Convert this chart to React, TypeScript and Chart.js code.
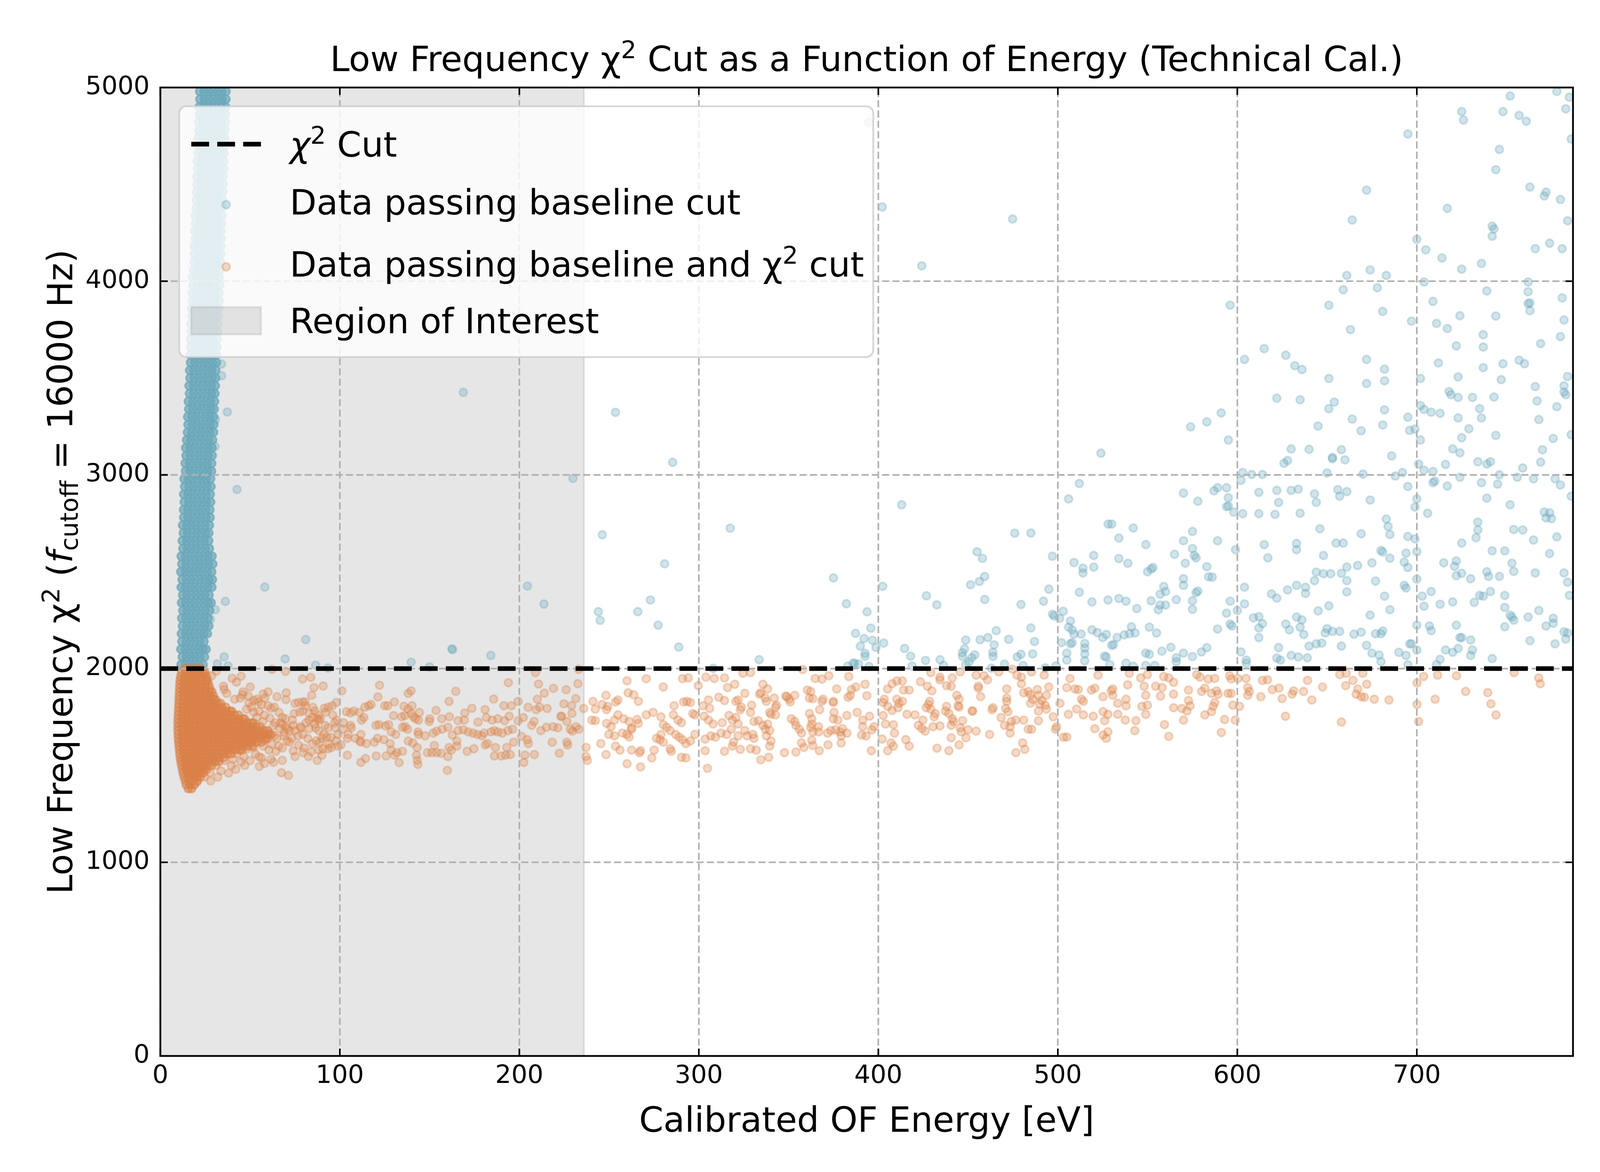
import { useEffect, useRef } from "react"
import { Chart, registerables } from "chart.js"

Chart.register(...registerables)

const FONT = '"DejaVu Sans", "Liberation Sans", sans-serif'

// Axis ranges, cut value and region of interest
const X_MIN = 0
const X_MAX = 787
const Y_MIN = 0
const Y_MAX = 5000
const CHI2_CUT = 2000
const ROI_MAX = 236
const xTicks = [0, 100, 200, 300, 400, 500, 600, 700]
const yTicks = [0, 1000, 2000, 3000, 4000, 5000]

// Dense column of events that pass the baseline cut only (low energy), [y, x, x, ...]
const blueColumnRows: number[][] = [
  [2020, 11.5, 14, 16.4, 18.9, 21.3, 23.8],
  [2060, 12.2, 14.6, 17.1, 19.5, 22, 24.6],
  [2100, 11.4, 13.9, 16.3, 18.8, 21.2, 23.7, 25.5],
  [2140, 12, 14.5, 16.9, 19.4, 21.9, 24.3],
  [2180, 11.7, 14.2, 16.6, 19.1, 21.6, 24.1, 26.2],
  [2220, 12.3, 14.8, 17.2, 19.7, 22.2, 24.7, 27],
  [2260, 11.9, 14.3, 16.8, 19.2, 21.7, 24.2, 26.6],
  [2300, 12.5, 14.9, 17.4, 19.9, 22.4, 24.9, 27.4],
  [2340, 11.8, 14.2, 16.7, 19.1, 21.6, 24.1, 26.5, 28.3],
  [2380, 12.4, 14.8, 17.3, 19.8, 22.3, 24.7, 27.1],
  [2420, 11.6, 14, 16.5, 18.9, 21.4, 23.9, 26.4, 28.7],
  [2460, 12.1, 14.6, 17, 19.5, 22, 24.5, 27, 29],
  [2500, 11.4, 13.9, 16.3, 18.8, 21.2, 23.7, 26.2, 28.6],
  [2540, 12, 14.4, 16.9, 19.4, 21.9, 24.3, 26.8, 29.2],
  [2580, 11.6, 14.1, 16.5, 19, 21.5, 24, 26.5, 28.8],
  [2620, 12.6, 15, 17.5, 19.9, 22.4, 24.9, 27.3],
  [2660, 12.2, 14.7, 17.1, 19.6, 22.1, 24.5, 26.9],
  [2700, 12.8, 15.2, 17.7, 20.2, 22.6, 25.1, 27],
  [2740, 12.4, 14.9, 17.3, 19.8, 22.3, 24.8, 27.3],
  [2780, 13, 15.4, 17.9, 20.4, 22.8, 25.3, 27.7],
  [2820, 12.9, 15.3, 17.8, 20.3, 22.7, 25.2, 27.6],
  [2860, 13.3, 15.8, 18.2, 20.7, 23.2, 25.6, 28],
  [2900, 13, 15.5, 17.9, 20.4, 22.9, 25.4, 27.8],
  [2940, 13.5, 16, 18.4, 20.9, 23.4, 25.8, 28.2],
  [2980, 13.2, 15.7, 18.1, 20.6, 23.1, 25.5, 28],
  [3020, 14, 16.4, 18.9, 21.4, 23.8, 26.3, 28.5],
  [3060, 13.8, 16.3, 18.7, 21.2, 23.7, 26.1, 28.6],
  [3100, 14.3, 16.7, 19.2, 21.7, 24.1, 26.6, 28.9],
  [3140, 14.1, 16.6, 19, 21.5, 24, 26.4, 28.8],
  [3180, 14.6, 17, 19.5, 22, 24.4, 26.9, 29.1],
  [3220, 15.1, 17.5, 20, 22.5, 24.9, 27.4, 29.6],
  [3260, 15.4, 17.8, 20.3, 22.8, 25.2, 27.7, 29.8],
  [3300, 15.2, 17.7, 20.1, 22.6, 25.1, 27.5, 29.7],
  [3340, 15.8, 18.2, 20.7, 23.2, 25.6, 28.1, 30],
  [3380, 15.6, 18.1, 20.5, 23, 25.5, 27.9, 30.2],
  [3420, 16.2, 18.6, 21.1, 23.6, 26, 28.5, 30.4],
  [3460, 16, 18.5, 20.9, 23.4, 25.9, 28.3, 30.6],
  [3500, 16.5, 18.9, 21.4, 23.9, 26.3, 28.8, 30.8],
  [3540, 16.3, 18.8, 21.2, 23.7, 26.2, 28.6, 30.9],
  [3580, 16.8, 19.2, 21.7, 24.2, 26.6, 29.1, 31.2],
  [3620, 16.6, 19.1, 21.5, 24, 26.5, 28.9, 31.3],
  [3660, 17, 19.5, 22, 24.4, 26.9, 29.4, 31.5],
  [3700, 16.9, 19.3, 21.8, 24.3, 26.7, 29.2, 31.6],
  [3740, 17.3, 19.8, 22.2, 24.7, 27.2, 29.6, 31.9],
  [3780, 17.1, 19.6, 22, 24.5, 27, 29.5, 32],
  [3820, 17.6, 20.1, 22.5, 25, 27.5, 29.9, 32.3],
  [3860, 17.4, 19.9, 22.4, 24.8, 27.3, 29.8, 32.4],
  [3900, 17.9, 20.4, 22.8, 25.3, 27.8, 30.2, 32.7],
  [3940, 17.7, 20.2, 22.7, 25.1, 27.6, 30.1, 32.6],
  [3980, 18.2, 20.7, 23.1, 25.6, 28.1, 30.5, 33],
  [4020, 18, 20.5, 23, 25.4, 27.9, 30.4, 32.8],
  [4060, 18.5, 21, 23.4, 25.9, 28.4, 30.8, 33.2],
  [4100, 18.8, 21.3, 23.7, 26.2, 28.7, 31.1, 33.5],
  [4140, 19.1, 21.5, 24, 26.5, 28.9, 31.4, 33.6],
  [4180, 18.9, 21.4, 23.9, 26.3, 28.8, 31.3, 33.7],
  [4220, 19.4, 21.8, 24.3, 26.8, 29.2, 31.7, 33.9],
  [4260, 19.2, 21.7, 24.2, 26.6, 29.1, 31.6, 33.8],
  [4300, 19.6, 22.1, 24.5, 27, 29.5, 31.9, 34.1],
  [4340, 19.5, 22, 24.4, 26.9, 29.4, 31.8, 34.2],
  [4380, 19.9, 22.4, 24.8, 27.3, 29.8, 32.2, 34.3],
  [4420, 20.2, 22.6, 25.1, 27.6, 30, 32.5, 34.6],
  [4460, 20, 22.5, 25, 27.4, 29.9, 32.4, 34.7],
  [4500, 20.5, 22.9, 25.4, 27.9, 30.3, 32.8, 34.9],
  [4540, 20.3, 22.8, 25.3, 27.7, 30.2, 32.7, 35],
  [4580, 20.8, 23.2, 25.7, 28.2, 30.6, 33.1, 35.2],
  [4620, 20.6, 23.1, 25.6, 28, 30.5, 33, 35.3],
  [4660, 21, 23.5, 26, 28.4, 30.9, 33.4, 35.5],
  [4700, 21.3, 23.8, 26.2, 28.7, 31.2, 33.6, 35.7],
  [4740, 21.1, 23.6, 26.1, 28.5, 31, 33.5, 35.9],
  [4780, 21.5, 24, 26.4, 28.9, 31.4, 33.8, 36],
  [4820, 21.4, 23.9, 26.3, 28.8, 31.3, 33.7, 36.2],
  [4860, 21.8, 24.2, 26.7, 29.2, 31.6, 34.1, 36.3],
  [4900, 21.6, 24.1, 26.6, 29, 31.5, 34, 36.4],
  [4940, 22, 24.5, 26.9, 29.4, 31.9, 34.3, 36.5],
  [4980, 21.9, 24.4, 26.8, 29.3, 31.8, 34.2, 36.6],
]

// Scattered baseline-only events, flat [x, y, x, y, ...]
const blueLow: number[] = [
  58.2, 2421, 36.2, 2347, 30.6, 2304, 27.9, 2255, 81, 2150, 35.5, 2061, 69.5, 2050, 31.8, 2025, 37.7, 2014,
  86.5, 2018, 93.4, 2003, 139.7, 2033, 150, 2009, 162.4, 2102, 162.8, 2098, 184.1, 2068, 204.5, 2426,
  213.7, 2333, 37.3, 3325, 42.7, 2925, 34.1, 3572, 34.1, 3512, 30.7, 3286, 30.4, 3147, 168.8, 3426,
]

const blueMid: number[] = [
  253.6, 3323, 285.4, 3065, 229.9, 2982, 246.2, 2691, 317.5, 2725, 413, 2846, 280.9, 2541, 375, 2468,
  476, 2699, 455, 2603, 458, 2569, 402.4, 2425, 451.4, 2433, 456.3, 2450, 459.2, 2475, 459.3, 2357,
  244, 2294, 245, 2249, 266, 2294, 273, 2354, 277.3, 2224, 288.8, 2111, 333.6, 2046, 308, 2001,
  382.2, 2335, 393.7, 2293, 395.8, 2209, 387.3, 2182, 392, 2155, 396.7, 2146, 390, 2116, 392.6, 2079,
  398.7, 2109, 403, 2132, 386.8, 2026, 389, 2024, 394.8, 2011, 426.8, 2376, 432.6, 2329, 414.6, 2104,
  418, 2064, 426.3, 2042, 434.4, 2046, 436.3, 2016, 418.8, 2013, 448.7, 2147, 448, 2102, 446.8, 2082,
  453.7, 2071, 452, 2056, 450.5, 2035, 448.7, 2020, 456.7, 2149, 461, 2160, 465.7, 2196, 464.5, 2123,
  463.8, 2084, 472.6, 2151, 479.5, 2331, 479.5, 2074, 477.4, 2060, 470.3, 2023, 480.6, 2016, 462.9, 2002,
  383, 2013, 386, 2029, 392.6, 2063, 446.9, 2063, 463.9, 2063, 394.7, 4820, 402.2, 4383, 474.8, 4321,
  424.2, 4079,
]

const blueHigh: number[] = [
  752, 4956, 778, 4980, 785, 4950, 725, 4876, 726, 4832, 748, 4876, 757, 4856, 761, 4826, 783, 4890,
  695, 4760, 746, 4680, 786, 4734, 744, 4576, 672, 4470, 763, 4486, 772, 4460, 771, 4440, 780, 4422,
  717, 4376, 664, 4316, 784, 4312, 742, 4284, 743, 4270, 742, 4232, 700, 4216, 705, 4162, 714, 4120,
  774, 4196, 766, 4168, 781, 4168, 725, 4062, 736, 4092, 674, 4058, 683, 4030, 661, 4030, 659, 3956,
  678, 3966, 704, 3996, 762, 3996, 762, 3946, 763, 3888, 762, 3884, 763, 3848, 739, 3950, 781, 3914,
  709, 3896, 596, 3876, 651, 3876, 681, 3844, 724, 3822, 744, 3820, 697, 3794, 782, 3800, 711, 3782,
  717, 3756, 663, 3750, 737, 3724, 737, 3660, 780, 3714, 722, 3666, 769, 3678, 615, 3652, 604, 3596,
  627, 3618, 632, 3564, 636, 3544, 672, 3596, 682, 3546, 682, 3486, 712, 3578, 748, 3574, 737, 3554,
  757, 3592, 760, 3574, 651, 3498, 672, 3472, 702, 3498, 723, 3506, 747, 3492, 784, 3508, 766, 3456,
  782, 3460, 782, 3428, 783, 3414, 718, 3430, 719, 3414, 723, 3400, 731, 3400, 743, 3402, 622, 3396,
  635, 3388, 767, 3382, 654, 3376, 651, 3342, 682, 3336, 702, 3358, 704, 3338, 708, 3324, 713, 3318,
  735, 3342, 736, 3294, 778, 3352, 723, 3294, 768, 3286, 664, 3288, 695, 3298, 645, 3252, 681, 3258,
  669, 3228, 696, 3230, 699, 3236, 729, 3238, 744, 3204, 725, 3192, 702, 3180, 776, 3188, 786, 3208,
  583, 3274, 591, 3320, 574, 3248, 595, 3180, 524, 3112, 630, 3134, 640, 3132, 658, 3130, 653, 3090,
  653, 3084, 660, 3078, 626, 3060, 628, 3074, 686, 3098, 720, 3134, 724, 3114, 770, 3130, 769, 3066,
  716, 3054, 734, 3068, 739, 3056, 741, 3068, 701, 3056, 704, 3024, 709, 3018, 759, 3036, 650, 3010,
  670, 3004, 688, 2994, 692, 3012, 603, 3012, 608, 3002, 614, 3002, 602, 2972, 724, 2988, 746, 3000,
  756, 2988, 765, 2980, 777, 2980, 780, 2948, 786, 2890, 512, 2956, 506, 2876, 589, 2934, 587, 2918,
  594, 2934, 595, 2882, 595, 2840, 594, 2836, 598, 2808, 570, 2906, 578, 2864, 612, 2910, 622, 2920,
  630, 2920, 634, 2926, 643, 2902, 644, 2858, 656, 2924, 657, 2890, 661, 2914, 623, 2858, 695, 2940,
  709, 2960, 710, 2968, 717, 2942, 736, 2960, 745, 2952, 739, 2880, 752, 2846, 700, 2876, 699, 2834,
  674, 2870, 603, 2800, 612, 2800, 621, 2796, 635, 2802, 706, 2802, 771, 2808, 774, 2804, 772, 2778,
  775, 2774, 485, 2700, 530, 2746, 528, 2746, 542, 2726, 575, 2708, 734, 2756, 734, 2716, 733, 2676,
  754, 2718, 759, 2716, 778, 2680, 646, 2722, 684, 2734, 683, 2772, 685, 2692, 669, 2696, 695, 2682,
  699, 2670, 534, 2674, 549, 2640, 570, 2660, 589, 2660, 615, 2640, 633, 2646, 633, 2614, 655, 2648,
  659, 2648, 725, 2648, 765, 2664, 497, 2580, 509, 2548, 520, 2584, 520, 2524, 534, 2568, 539, 2544,
  575, 2620, 576, 2584, 577, 2572, 565, 2590, 571, 2544, 599, 2614, 617, 2572, 648, 2584, 680, 2610,
  681, 2602, 685, 2570, 694, 2596, 693, 2550, 700, 2604, 742, 2608, 749, 2608, 774, 2594, 722, 2556,
  721, 2528, 722, 2480, 715, 2546, 753, 2544, 754, 2502, 739, 2500, 740, 2476, 746, 2476, 766, 2494,
  782, 2494, 784, 2446, 785, 2378, 725, 2492, 730, 2464, 667, 2532, 661, 2524, 675, 2546, 695, 2522,
  514, 2518, 514, 2494, 550, 2500, 552, 2514, 553, 2522, 583, 2526, 584, 2474, 586, 2472, 644, 2498,
  648, 2490, 652, 2490, 658, 2492, 661, 2454, 643, 2454, 677, 2452, 559, 2424, 560, 2398, 557, 2384,
  570, 2464, 570, 2430, 577, 2392, 578, 2400, 495, 2410, 512, 2394, 534, 2362, 528, 2354, 538, 2348,
  544, 2310, 552, 2350, 557, 2328, 556, 2304, 560, 2328, 566, 2356, 575, 2350, 575, 2306, 519, 2344,
  492, 2348, 596, 2348, 594, 2286, 597, 2220, 604, 2420, 604, 2334, 600, 2300, 619, 2386, 622, 2364,
  628, 2406, 633, 2430, 638, 2420, 638, 2388, 661, 2396, 682, 2374, 685, 2304, 693, 2430, 694, 2416,
  700, 2462, 703, 2374, 708, 2398, 704, 2322, 713, 2332, 720, 2344, 732, 2342, 735, 2378, 737, 2374,
  741, 2398, 749, 2378, 749, 2316, 768, 2300, 752, 2276, 753, 2266, 754, 2250, 762, 2266, 776, 2260,
  776, 2234, 772, 2220, 784, 2184, 782, 2190, 783, 2152, 749, 2216, 722, 2224, 725, 2160, 724, 2160,
  730, 2148, 731, 2096, 730, 2068, 763, 2144, 777, 2128, 742, 2052, 707, 2220, 708, 2196, 700, 2224,
  700, 2096, 697, 2128, 696, 2128, 720, 2084, 723, 2104, 716, 2096, 713, 2048, 711, 2020, 690, 2084,
  694, 2068, 695, 2020, 677, 2180, 681, 2194, 680, 2180, 674, 2276, 669, 2188, 665, 2178, 679, 2070,
  675, 2080, 672, 2120, 680, 2036, 658, 2116, 653, 2192, 657, 2192, 650, 2206, 649, 2184, 651, 2324,
  645, 2298, 647, 2132, 644, 2128, 640, 2116, 637, 2176, 635, 2214, 636, 2252, 633, 2266, 629, 2200,
  627, 2230, 630, 2068, 634, 2060, 639, 2056, 623, 2108, 622, 2054, 624, 2044, 609, 2262, 612, 2268,
  614, 2232, 612, 2210, 612, 2160, 602, 2086, 605, 2044, 605, 2028, 596, 2230, 589, 2204, 583, 2108,
  580, 2086, 575, 2062, 570, 2080, 566, 2056, 566, 2036, 563, 2110, 558, 2090, 555, 2184, 551, 2214,
  549, 2080, 551, 2074, 554, 2016, 549, 2016, 541, 2216, 543, 2184, 540, 2180, 537, 2174, 533, 2160,
  531, 2124, 530, 2120, 525, 2160, 527, 2176, 522, 2186, 519, 2200, 526, 2064, 527, 2060, 529, 2020,
  513, 2178, 515, 2130, 515, 2106, 515, 2076, 515, 2040, 507, 2246, 506, 2214, 508, 2200, 509, 2178,
  508, 2134, 507, 2128, 505, 2080, 505, 2044, 503, 2296, 497, 2280, 498, 2272, 501, 2260, 502, 2134,
  499, 2014, 493, 2004, 487, 2140, 485, 2210, 486, 2076, 538, 2028, 542, 2012,
]

// Dense blob of events passing both cuts, [y, x, x, ...]
const orangeBlobRows: number[][] = [
  [1380, 15.6, 17.4],
  [1400, 14.4, 16.6, 18.9],
  [1420, 13.9, 16.2, 18.5, 20.5],
  [1440, 13.2, 15.6, 18, 20.3, 22.2],
  [1460, 12.7, 15.1, 17.5, 19.9, 22.3, 23.8],
  [1480, 12.2, 14.6, 17, 19.5, 21.9, 24.3, 25.8],
  [1500, 11.8, 14.2, 16.6, 19, 21.4, 23.8, 26.2, 28.5],
  [1520, 11.4, 13.9, 16.3, 18.7, 21.1, 23.5, 25.9, 28.3, 30.6, 32.6],
  [1540, 11.1, 13.5, 15.9, 18.3, 20.7, 23.1, 25.6, 28, 30.4, 32.8, 35.3],
  [1560, 10.8, 13.2, 15.6, 18, 20.5, 22.9, 25.3, 27.7, 30.1, 32.5, 34.9, 37.3, 39.4],
  [1580, 10.6, 13, 15.4, 17.8, 20.2, 22.6, 25, 27.4, 29.9, 32.3, 34.7, 37.1, 39.5, 41.9, 44.2, 45.6],
  [1600, 10.4, 12.8, 15.2, 17.6, 20, 22.4, 24.8, 27.3, 29.7, 32.1, 34.5, 36.9, 39.3, 41.7, 44.1, 46.5, 48.9, 51.2],
  [1620, 10.2, 12.6, 15, 17.4, 19.8, 22.3, 24.7, 27.1, 29.5, 31.9, 34.3, 36.7, 39.1, 41.5, 43.9, 46.3, 48.8, 51.2, 53.6, 56.3],
  [1640, 10, 12.4, 14.8, 17.2, 19.6, 22, 24.4, 26.8, 29.3, 31.7, 34.1, 36.5, 38.9, 41.3, 43.7, 46.1, 48.5, 50.9, 53.3, 55.7, 58.2, 59.6],
  [1660, 9.9, 12.3, 14.7, 17.1, 19.5, 21.9, 24.3, 26.8, 29.2, 31.6, 34, 36.4, 38.8, 41.2, 43.6, 46, 48.4, 50.8, 53.2, 55.6, 58, 60.4, 61.7],
  [1680, 9.8, 12.2, 14.6, 17, 19.4, 21.8, 24.2, 26.7, 29.1, 31.5, 33.9, 36.3, 38.7, 41.1, 43.5, 45.9, 48.3, 50.7, 53.1, 55.5, 57.9, 59.8],
  [1700, 9.8, 12.2, 14.6, 17, 19.4, 21.8, 24.3, 26.7, 29.1, 31.5, 33.9, 36.3, 38.7, 41.1, 43.5, 45.9, 48.3, 50.7, 53.2, 55.6],
  [1720, 9.8, 12.2, 14.6, 17, 19.4, 21.9, 24.3, 26.7, 29.1, 31.5, 33.9, 36.3, 38.7, 41.1, 43.6, 46, 48.4, 50.8, 51.8],
  [1740, 9.9, 12.3, 14.7, 17.1, 19.5, 21.9, 24.3, 26.8, 29.2, 31.6, 34, 36.4, 38.8, 41.2, 43.6, 46, 47],
  [1760, 10, 12.4, 14.8, 17.2, 19.6, 22, 24.4, 26.8, 29.2, 31.6, 34, 36.4, 38.9, 41.3, 43.5],
  [1780, 10.1, 12.5, 14.9, 17.3, 19.7, 22.1, 24.5, 26.9, 29.3, 31.7, 34.2, 36.6, 38.9, 39.8],
  [1800, 10.2, 12.6, 15, 17.4, 19.8, 22.2, 24.6, 27, 29.4, 31.8, 34.2, 36.4],
  [1820, 10.3, 12.7, 15.1, 17.5, 19.9, 22.3, 24.7, 27.1, 29.5, 31.9, 33.6],
  [1840, 10.4, 12.8, 15.2, 17.6, 20, 22.4, 24.8, 27.2, 29.6, 30.8],
  [1860, 10.5, 12.9, 15.3, 17.7, 20.1, 22.5, 24.9, 27.3, 29.5],
  [1880, 10.6, 13, 15.4, 17.8, 20.2, 22.6, 25, 27.4, 28.7],
  [1900, 10.7, 13.1, 15.5, 17.9, 20.3, 22.7, 25.1, 27.5],
  [1920, 10.8, 13.2, 15.6, 18, 20.4, 22.8, 25.2, 26.8],
  [1940, 11, 13.4, 15.8, 18.2, 20.6, 23, 25.4, 26.3],
  [1960, 11.3, 13.7, 16.1, 18.5, 20.9, 23.3, 25.6],
  [1980, 11.9, 14.3, 16.7, 19.1, 21.5, 23.9, 24.8],
  [2000, 13.4, 15.8, 18.2, 20.6, 22.6],
]

// Scattered events passing both cuts, flat [x, y, x, y, ...]
const orangeLow: number[] = [
  42.4, 1930, 35.2, 1909, 35.6, 1892, 37, 1872, 28.5, 1963, 31.2, 1986, 45.8, 1865, 44.5, 1848, 41.4, 1842,
  53.7, 1842, 57.3, 1869, 58.2, 1848, 62.2, 1996, 69.7, 1986, 70.1, 1875, 79.2, 1946, 83.8, 1955, 85.6, 1902,
  90.7, 1910, 84.3, 1862, 76.9, 1825, 80.7, 1828, 80.7, 1808, 74.5, 1768, 73.6, 1734, 69.7, 1741, 67, 1721,
  91.3, 1795, 93.5, 1801, 95.8, 1808, 98, 1825, 86, 1781, 88.2, 1734, 89.1, 1741, 101.1, 1885, 103.7, 1778,
  105.9, 1771, 107.7, 1781, 110.8, 1774, 113.9, 1801, 116.1, 1808, 117.4, 1815, 122.1, 1914, 121.2, 1854,
  125, 1808, 126.7, 1808, 105.9, 1707, 106.4, 1694, 112.1, 1734, 113.4, 1747, 120.1, 1707, 121.8, 1711,
  125.4, 1704, 127.2, 1711, 111.7, 1660, 111.2, 1627, 114.8, 1613, 121, 1640, 119.2, 1620, 124.5, 1633,
  128, 1613, 120.3, 1549, 125.8, 1549, 104.2, 1553, 111.7, 1516, 114.3, 1536, 97.1, 1721, 98.4, 1734,
  97.5, 1694, 101.5, 1687, 104.6, 1660, 91.8, 1707, 93.5, 1694, 88.2, 1680, 86.5, 1694, 92.7, 1647, 98, 1627,
  100.6, 1606, 98.9, 1600, 90, 1640, 88.2, 1579, 90.5, 1586, 93.5, 1586, 95.3, 1593, 104.2, 1640, 108.6, 1640,
  111.7, 1620, 82.5, 1546, 87.4, 1526, 90, 1553, 75, 1546, 79.4, 1566, 67.9, 1526, 63, 1516, 55.1, 1495,
  67.5, 1462, 71.4, 1448, 39.6, 1499, 33.8, 1472, 27.7, 1462, 44.9, 1519, 40.5, 1532, 52.9, 1559, 56.4, 1539,
  61.7, 1532, 64.4, 1573, 48.4, 1586, 52, 1593, 57.3, 1600, 60, 1667, 63.5, 1653, 68.8, 1653, 70.6, 1627,
  73.2, 1640, 76.7, 1653, 79.4, 1660, 82.1, 1640, 84.7, 1613, 86.9, 1627, 74.1, 1707, 78.5, 1694, 81.2, 1721,
  82.9, 1734, 84.7, 1748, 87.4, 1741, 77.6, 1775, 79.4, 1781, 82.9, 1768, 79.4, 1828, 54.6, 1828, 56.4, 1815,
  60, 1808, 61.7, 1795, 63.5, 1801, 66.1, 1774, 67.9, 1748, 49.3, 1822, 50.7, 1801, 52, 1775, 53.7, 1748,
  64, 1720, 66.5, 1690, 70, 1700, 72, 1680, 58.5, 1630, 62, 1610, 66, 1600, 60.5, 1580, 42.5, 1560,
  46.5, 1545, 36, 1525, 31, 1500, 24.5, 1440, 20.5, 1415,
  46, 1880, 49, 1858, 52, 1835, 48, 1790, 55, 1780, 58, 1760, 61, 1745, 57, 1725, 63, 1705, 68, 1712,
  71, 1690, 75, 1680, 69, 1670, 65, 1640, 72, 1620, 77, 1605, 68, 1590, 74, 1575, 80, 1590, 84, 1570,
  78, 1700, 83, 1690, 86, 1715, 91, 1660, 95, 1645, 89, 1620, 94, 1610, 99, 1660, 102, 1720, 96, 1760,
  92, 1775, 88, 1760, 85, 1800, 75, 1820, 70, 1840, 65, 1855, 60, 1880, 50, 1905, 40, 1950, 45, 1960,
  55, 1545, 50, 1525, 58, 1510, 47, 1500, 42, 1480, 38, 1460, 32, 1440, 28, 1420,
]

const orangeMid: number[] = [
  139.7, 1885, 138.1, 1872, 164.6, 1883, 160.8, 1831, 130.4, 1828, 185.7, 1843, 193.9, 1927, 209, 1979,
  210.7, 1920, 213.9, 1873, 219, 1898, 226.1, 1891, 232.6, 1922, 231.5, 1845, 233, 1996, 199.3, 1831,
  191.4, 1808, 195.5, 1808, 204.9, 1800, 210, 1842, 209.4, 1788, 211.3, 1801, 215.5, 1794, 224.8, 1818,
  229.1, 1809, 229.3, 1769, 223.6, 1753, 135.7, 1805, 140.2, 1808, 138, 1791, 144.3, 1774, 129.9, 1757,
  134.4, 1751, 136.2, 1757, 141, 1751, 142.2, 1741, 143.8, 1734, 139.7, 1768, 150.1, 1741, 149.8, 1727,
  153.6, 1784, 161, 1751, 156.8, 1741, 169.6, 1771, 173.6, 1795, 180.9, 1788, 181.6, 1747, 184.9, 1734,
  188, 1741, 191.8, 1731, 194.3, 1754, 202.2, 1747, 199.3, 1731, 165.9, 1731, 169.3, 1734, 177, 1724,
  208.2, 1727, 206.9, 1707, 223.1, 1754, 226.5, 1727, 231.5, 1700, 134.9, 1697, 136.4, 1700, 137.7, 1687,
  128.6, 1673, 131.1, 1660, 143.5, 1673, 143.8, 1660, 147.5, 1653, 152, 1667, 153.9, 1677, 157, 1687,
  160.2, 1697, 162.7, 1657, 165.9, 1680, 168.8, 1684, 171.5, 1673, 174.1, 1667, 176.6, 1660, 179.1, 1653,
  180.4, 1667, 184.2, 1673, 186.1, 1680, 188, 1673, 190.5, 1667, 193.6, 1680, 196.2, 1687, 201.2, 1650,
  204.4, 1633, 205, 1613, 212, 1680, 215.1, 1697, 218.9, 1700, 221.4, 1694, 228.4, 1687, 229.6, 1677,
  233.2, 1687, 218.3, 1620, 226.5, 1620, 226.9, 1606, 222.3, 1563, 208.4, 1556, 203.1, 1553, 202.5, 1515,
  186.1, 1549, 189.9, 1549, 192.4, 1553, 194.9, 1556, 186.7, 1593, 193, 1593, 196.8, 1620, 181, 1606,
  182.3, 1613, 174.7, 1586, 170.9, 1573, 165.2, 1626, 165.2, 1600, 160.8, 1593, 162.1, 1579, 160.2, 1546,
  159.9, 1475, 152.6, 1603, 153.9, 1566, 151.3, 1566, 148.8, 1566, 156.4, 1563, 143.1, 1593, 142.7, 1553,
  143.5, 1505, 143.1, 1526, 138.1, 1626, 140.6, 1616, 133, 1515, 130.5, 1553, 128.6, 1579, 131.8, 1566,
  134.9, 1573, 237.2, 1593, 237.2, 1546, 237.9, 1526, 235.9, 1794, 241, 1831, 248.3, 1862, 254.9, 1838,
  253.6, 1828, 246.1, 1815, 249.2, 1805, 248.6, 1788, 242.3, 1791, 260, 1937, 270.7, 1948, 280.2, 1905,
  290.9, 1948, 294.1, 1952, 303.9, 1956, 308.6, 1949, 314.3, 1952, 316, 1902, 299.7, 1912, 260.6, 1875,
  263.7, 1865, 266.3, 1831, 286.2, 1808, 291.5, 1828, 293.4, 1831, 295.3, 1825, 305.4, 1838, 311.1, 1852,
  314.3, 1835, 302.3, 1808, 306, 1794, 270.7, 1761, 274.5, 1774, 278.9, 1751, 254.9, 1761, 258.1, 1741,
  261.2, 1727, 262.5, 1694, 240.4, 1734, 242.3, 1731, 248.6, 1717, 253, 1734, 251.1, 1700, 265.6, 1737,
  266.3, 1717, 285.8, 1761, 288.4, 1734, 290.3, 1721, 296.6, 1768, 297.8, 1761, 302.9, 1754, 305.4, 1734,
  307.9, 1714, 313, 1721, 280.2, 1710, 282.1, 1697, 284, 1680, 278.9, 1660, 276.4, 1640, 280.2, 1620,
  278.3, 1633, 287.1, 1660, 289, 1646, 290.9, 1633, 292.8, 1613, 295.3, 1626, 297.8, 1660, 303.5, 1636,
  306.7, 1653, 309.2, 1646, 312.4, 1667, 315.5, 1660, 249.9, 1660, 253, 1653, 257.4, 1667, 259.9, 1660,
  262.5, 1687, 261.2, 1647, 245.4, 1613, 253.6, 1600, 256.1, 1579, 262.5, 1579, 267.5, 1576, 266.9, 1566,
  248.3, 1556, 260, 1509, 267.5, 1492, 273.8, 1539, 275.1, 1579, 284, 1586, 284.6, 1573, 290.3, 1542,
  292.8, 1539, 303.5, 1576, 314.3, 1573, 304.8, 1485,
]

const orangeHigh: number[] = [
  324.6, 1976, 328.8, 1979, 357.8, 1995, 320, 1919, 335.7, 1919, 338.3, 1895, 334.5, 1875, 333.9, 1868,
  325.6, 1872, 320.6, 1831, 321.9, 1838, 323.1, 1788, 323.7, 1801, 329.4, 1811, 328.8, 1774, 337, 1848,
  337.6, 1831, 342, 1848, 343.3, 1811, 342.7, 1801, 339.5, 1774, 340.2, 1764, 342.7, 1761, 348.4, 1858,
  350.3, 1842, 353.4, 1862, 349, 1855, 350.9, 1828, 360.4, 1889, 362.3, 1882, 361.6, 1848, 363.5, 1845,
  364.8, 1949, 368.6, 1946, 372.4, 1963, 368.6, 1831, 369.2, 1842, 374.9, 1825, 374.9, 1831, 367.3, 1788,
  375.3, 1774, 374.9, 1741, 377.4, 1734, 383.5, 1959, 376.8, 1895, 385, 1892, 387.5, 1905, 392.6, 1919,
  383.1, 1852, 384.4, 1862, 393.6, 1860, 382.5, 1758, 388.2, 1774, 391.3, 1734, 395.1, 1754, 391.3, 1700,
  397.6, 1700, 396.4, 1684, 390.7, 1657, 393.2, 1653, 396.1, 1576, 316.8, 1758, 318.7, 1734, 320.6, 1747,
  321.9, 1714, 318.1, 1687, 321.9, 1653, 319.3, 1620, 318.7, 1600, 323.1, 1583, 325.6, 1680, 326.9, 1653,
  330.7, 1640, 330.1, 1660, 330.7, 1727, 333.2, 1731, 335.7, 1707, 337, 1687, 338.3, 1714, 339.5, 1680,
  337.6, 1653, 340.2, 1626, 339.5, 1600, 328.8, 1586, 332, 1579, 334.5, 1529, 338.9, 1542, 347.7, 1566,
  354.1, 1569, 351.5, 1741, 353.4, 1727, 354.1, 1707, 356, 1687, 357.2, 1667, 357.2, 1616, 358.5, 1593,
  361.6, 1768, 362.9, 1741, 362.9, 1714, 362.3, 1697, 363.5, 1673, 366.7, 1700, 366.7, 1673, 362.9, 1630,
  363.5, 1603, 367.1, 1576, 372, 1606, 371.7, 1667, 373.6, 1680, 376.2, 1684, 378.7, 1673, 380, 1690,
  382.5, 1667, 379.3, 1653, 379.3, 1616, 402.7, 1825, 403.3, 1842, 405.2, 1805, 402.7, 1758, 404, 1714,
  408.4, 1710, 409, 1667, 405.2, 1895, 407.7, 1922, 410.3, 1936, 413.4, 1936, 410.3, 1842, 411.5, 1821,
  413.4, 1831, 407.7, 1784, 410.9, 1798, 402.1, 1636, 407.1, 1616, 408.4, 1600, 405.2, 1576, 414.1, 1889,
  417.2, 1889, 416, 1764, 420.4, 1761, 415.3, 1633, 417.2, 1600, 423.5, 1932, 427.3, 1909, 429.8, 1885,
  428.6, 1831, 427.9, 1815, 426.7, 1798, 429.2, 1791, 431.7, 1768, 431.1, 1751, 424.8, 1734, 422.3, 1707,
  424.2, 1690, 426.1, 1677, 430.5, 1700, 434.3, 1704, 432.7, 1589, 439.3, 1576, 429.2, 1979, 434.3, 1956,
  434.3, 1942, 441.2, 1952, 445.6, 1983, 438, 1912, 440.6, 1909, 443.7, 1862, 445, 1842, 438, 1805,
  444.4, 1808, 445, 1801, 437.4, 1781, 439.3, 1768, 441.2, 1741, 441.8, 1727, 440.6, 1707, 446.9, 1731,
  445.6, 1694, 446.2, 1674, 450, 1684, 454.5, 1677, 448.8, 1643, 445, 1606, 440.6, 1643, 452.2, 1782,
  452.6, 1780, 454.5, 1966, 458.9, 1963, 460.8, 1942, 455.7, 1909, 457, 1855, 455.7, 1899, 463.3, 1788,
  463.9, 1798, 468.4, 1747, 462, 1660, 467.1, 1983, 474.7, 1997, 477.2, 1966, 479.7, 1956, 485.4, 1983,
  492.4, 1966, 471.5, 1895, 479.7, 1922, 471.5, 1848, 471.5, 1831, 470.9, 1794, 472.2, 1778, 470.3, 1707,
  473.4, 1700, 474.1, 1727, 476.6, 1734, 473.4, 1667, 481, 1734, 483.5, 1687, 485.4, 1687, 489.2, 1731,
  480.4, 1616, 481.6, 1583, 476.6, 1566, 481, 1875, 483.5, 1882, 484.8, 1865, 486, 1842, 488.6, 1892,
  489.2, 1862, 491.1, 1835, 493.6, 1862, 494.9, 1905, 493, 1811, 493.6, 1791, 489.2, 1781, 484.8, 1821,
  489.9, 1818, 497.4, 1751, 499.3, 1700, 498.7, 1687, 503.1, 1646, 501.2, 1821,
  506.8, 1949, 505, 1902, 509.6, 1895, 511.4, 1892, 513.2, 1842, 514.2, 1831, 510.5, 1791, 505.9, 1764,
  514.2, 1761, 519.7, 1754, 505, 1647, 522.4, 1966, 520.6, 1899, 518.7, 1889, 525.2, 1855, 530.6, 1862,
  529.7, 1885, 530.6, 1895, 525.2, 1778, 527.9, 1764, 533.4, 1764, 526.1, 1731, 520.6, 1690, 525.2, 1657,
  527.9, 1674, 527, 1640, 533.4, 1821, 538, 1808, 538, 1842, 538.9, 1916, 539.8, 1976, 548.1, 1909,
  549.9, 1969, 549, 1862, 546.8, 1805, 549.9, 1811, 549, 1764, 537.6, 1734, 543.5, 1731, 542.9, 1680,
  546.2, 1952, 554.5, 1909, 558.1, 1902, 557.2, 1858, 559, 1959, 561.8, 1952, 564.5, 1929, 564.5, 1868,
  564.5, 1798, 569.1, 1794, 570, 1734, 571.9, 1781, 572.8, 1835, 573.7, 1808, 559.4, 1711, 561.8, 1650,
  572.8, 1889, 577.4, 1969, 579.2, 1956, 583.8, 1946, 587.4, 1949, 580.1, 1882, 581.9, 1899, 585.6, 1872,
  589.3, 1868, 588.4, 1885, 586.5, 1805, 587.4, 1825, 581.9, 1761, 585.6, 1778, 592.9, 1737, 591.1, 1670,
  594.8, 1872, 596.6, 1872, 597.5, 1811, 601.2, 1805, 595.7, 1963, 596.6, 1946, 600.3, 1949, 604.8, 1949,
  605.8, 1902, 606.7, 1882, 605.8, 1862, 598.8, 1734, 613.1, 1855, 614, 1939, 616.8, 1942, 619.5, 1892,
  623.2, 1899, 625, 1845, 626.8, 1754, 630.5, 1868, 631.4, 1885, 636.9, 1882, 639.1, 1939, 641.5, 1838,
  647.5, 1905, 658, 1724, 657.1, 1969, 660.7, 1976, 660.4, 1912, 664.4, 1939, 667.1, 1895, 666.2, 1868,
  669, 1855, 670.8, 1852, 672.1, 1919, 669.9, 1976, 676.3, 1842, 684.5, 1838, 700.1, 1926, 700.1, 1815,
  701, 1727, 703.8, 1959, 711.6, 1966, 722.1, 1963, 710.2, 1842, 727.2, 1882, 739.5, 1876, 741.3, 1818,
  744.1, 1761, 754.2, 1979, 767.9, 1952, 768.8, 1922,
]

const BLUE = "104, 166, 185"
const ORANGE = "218, 128, 70"

const pairs = (flat: number[]) => {
  const out: { x: number; y: number }[] = []
  for (let i = 0; i < flat.length; i += 2) out.push({ x: flat[i], y: flat[i + 1] })
  return out
}
const rows = (r: number[][]) => r.flatMap(([y, ...xs]) => xs.map((x) => ({ x, y })))

type Seg = { t: string; sup?: boolean; sub?: boolean; it?: boolean }

function drawRich(ctx: CanvasRenderingContext2D, segs: Seg[], x: number, y: number, size: number, align: "left" | "center") {
  const font = (s: Seg) => `${s.it ? "italic " : ""}${s.sup || s.sub ? size * 0.7 : size}px ${FONT}`
  const widths = segs.map((s) => {
    ctx.font = font(s)
    return ctx.measureText(s.t).width
  })
  const total = widths.reduce((a, b) => a + b, 0)
  let cx = align === "center" ? x - total / 2 : x
  ctx.textAlign = "left"
  ctx.textBaseline = "alphabetic"
  ctx.fillStyle = "#000"
  segs.forEach((s, i) => {
    ctx.font = font(s)
    const dy = s.sup ? -0.37 * size : s.sub ? 0.16 * size : 0
    ctx.fillText(s.t, cx, y + dy)
    cx += widths[i]
  })
}

const titleSegs: Seg[] = [{ t: "Low Frequency χ" }, { t: "2", sup: true }, { t: " Cut as a Function of Energy (Technical Cal.)" }]
const yLabelSegs: Seg[] = [
  { t: "Low Frequency χ" }, { t: "2", sup: true }, { t: " (" }, { t: "f", it: true }, { t: "cutoff", sub: true }, { t: " = 16000 Hz)" },
]
const xLabelSegs: Seg[] = [{ t: "Calibrated OF Energy [eV]" }]

const CUT_INDEX = 4

// Layout is designed on a 4500 x 3000 figure and scaled to the real viewport
type Scale = { sx: number; sy: number; f: number }

function makeDecor(S: Scale) {
  const { sx, sy, f } = S
  return {
    id: "decor",
    beforeDatasetsDraw(chart: any) {
      // shaded region of interest
      const { ctx, chartArea: a, scales } = chart
      const xr = scales.x.getPixelForValue(ROI_MAX)
      ctx.save()
      ctx.fillStyle = "rgba(128,128,128,0.2)"
      ctx.fillRect(a.left, a.top, xr - a.left, a.bottom - a.top)
      ctx.strokeStyle = "rgba(128,128,128,0.2)"
      ctx.lineWidth = 5 * f
      ctx.beginPath()
      ctx.moveTo(xr, a.top)
      ctx.lineTo(xr, a.bottom)
      ctx.stroke()
      ctx.restore()
    },
    beforeDatasetDraw(chart: any, args: any) {
      if (args.index !== CUT_INDEX) return
      // dashed grid, above the scatter but below the cut line
      const { ctx, chartArea: a, scales } = chart
      ctx.save()
      ctx.strokeStyle = "#b0b0b0"
      ctx.lineWidth = 4.5 * f
      ctx.setLineDash([20 * f, 9 * f])
      xTicks.forEach((v) => {
        const px = scales.x.getPixelForValue(v)
        ctx.beginPath()
        ctx.moveTo(px, a.bottom)
        ctx.lineTo(px, a.top)
        ctx.stroke()
      })
      yTicks.forEach((v) => {
        const py = scales.y.getPixelForValue(v)
        ctx.beginPath()
        ctx.moveTo(a.left, py)
        ctx.lineTo(a.right, py)
        ctx.stroke()
      })
      ctx.restore()
    },
    afterDraw(chart: any) {
      const { ctx, chartArea: a, scales } = chart
      ctx.save()
      // spines
      ctx.strokeStyle = "#000"
      ctx.lineWidth = 5 * f
      ctx.strokeRect(a.left, a.top, a.right - a.left, a.bottom - a.top)
      // inward ticks on all four sides
      ctx.lineWidth = 4.5 * f
      const TL = 21 * f
      xTicks.forEach((v) => {
        const px = scales.x.getPixelForValue(v)
        ctx.beginPath()
        ctx.moveTo(px, a.bottom)
        ctx.lineTo(px, a.bottom - TL)
        ctx.moveTo(px, a.top)
        ctx.lineTo(px, a.top + TL)
        ctx.stroke()
      })
      yTicks.forEach((v) => {
        const py = scales.y.getPixelForValue(v)
        ctx.beginPath()
        ctx.moveTo(a.left, py)
        ctx.lineTo(a.left + TL, py)
        ctx.moveTo(a.right, py)
        ctx.lineTo(a.right - TL, py)
        ctx.stroke()
      })

      // title and axis labels
      const big = 98 * f
      const cx = (a.left + a.right) / 2
      const cy = (a.top + a.bottom) / 2
      drawRich(ctx, titleSegs, cx, 182 * sy, big, "center")
      drawRich(ctx, xLabelSegs, cx, 2897 * sy, big, "center")
      ctx.save()
      ctx.translate(203 * sx, cy)
      ctx.rotate(-Math.PI / 2)
      drawRich(ctx, yLabelSegs, 0, 0, big, "center")
      ctx.restore()

      // legend
      const L = a.left + 53 * sx
      const T = a.top + 48 * sy
      ctx.beginPath()
      ctx.roundRect(L, T, 1952 * sx, 642 * sy, 20 * f)
      ctx.fillStyle = "rgba(255,255,255,0.8)"
      ctx.fill()
      ctx.strokeStyle = "rgba(204,204,204,0.8)"
      ctx.lineWidth = 5 * f
      ctx.stroke()

      const hx0 = L + 34 * sx
      const hx1 = L + 230 * sx
      const hcx = (hx0 + hx1) / 2
      const tx = L + 311 * sx
      // row 1: cut line
      ctx.strokeStyle = "#000"
      ctx.lineWidth = 13 * f
      ctx.setLineDash([50 * f, 23 * f])
      ctx.beginPath()
      ctx.moveTo(hx0, T + 97 * sy)
      ctx.lineTo(hx1, T + 97 * sy)
      ctx.stroke()
      ctx.setLineDash([])
      drawRich(ctx, [{ t: "χ", it: true }, { t: "2", sup: true }, { t: " Cut" }], tx, T + 129 * sy, big, "left")
      // rows 2 and 3: markers
      const marker = (y: number, rgb: string) => {
        ctx.beginPath()
        ctx.arc(hcx, y, 11 * f, 0, Math.PI * 2)
        ctx.fillStyle = `rgba(${rgb},0.3)`
        ctx.fill()
        ctx.strokeStyle = `rgba(${rgb},0.3)`
        ctx.lineWidth = 5 * f
        ctx.stroke()
      }
      marker(T + 252 * sy, BLUE)
      drawRich(ctx, [{ t: "Data passing baseline cut" }], tx, T + 277 * sy, big, "left")
      marker(T + 411 * sy, ORANGE)
      drawRich(ctx, [{ t: "Data passing baseline and χ" }, { t: "2", sup: true }, { t: " cut" }], tx, T + 436 * sy, big, "left")
      // row 4: region patch
      ctx.fillStyle = "rgba(128,128,128,0.2)"
      ctx.fillRect(hx0, T + 514 * sy, hx1 - hx0, 70 * sy)
      ctx.strokeStyle = "rgba(128,128,128,0.2)"
      ctx.lineWidth = 5 * f
      ctx.strokeRect(hx0, T + 514 * sy, hx1 - hx0, 70 * sy)
      drawRich(ctx, [{ t: "Region of Interest" }], tx, T + 581 * sy, big, "left")
      ctx.restore()
    },
  }
}

const scatterStyle = (rgb: string, alpha: number, f: number) => ({
  type: "scatter" as const,
  pointRadius: 11 * f,
  pointHoverRadius: 11 * f,
  pointBorderWidth: 5 * f,
  pointBackgroundColor: `rgba(${rgb},${alpha})`,
  pointBorderColor: `rgba(${rgb},${alpha})`,
  showLine: false,
  clip: 0,
})

export default function App() {
  const chartRef = useRef<HTMLCanvasElement>(null)
  const boxRef = useRef<HTMLDivElement>(null)
  const chartInstance = useRef<Chart | null>(null)

  useEffect(() => {
    const canvas = chartRef.current
    const box = boxRef.current
    if (!canvas || !box) return
    if (chartInstance.current) chartInstance.current.destroy()

    const W = window.innerWidth || 4500
    const H = window.innerHeight || 3000
    const sx = W / 4500
    const sy = H / 3000
    const S: Scale = { sx, sy, f: Math.min(sx, sy) }
    box.style.width = `${W}px`
    box.style.height = `${H}px`
    canvas.width = W
    canvas.height = H
    canvas.style.width = `${W}px`
    canvas.style.height = `${H}px`

    Chart.defaults.font.family = FONT
    Chart.defaults.color = "#000"

    const ctx = canvas.getContext("2d")
    if (!ctx) return
    const tickFont = { size: 71 * S.f, family: FONT }

    chartInstance.current = new Chart(ctx, {
      type: "scatter",
      data: {
        datasets: [
          { label: "Data passing baseline cut", data: rows(blueColumnRows), order: 5, ...scatterStyle(BLUE, 0.7, S.f) },
          { label: "Data passing baseline cut", data: pairs([...blueLow, ...blueMid, ...blueHigh]), order: 4, ...scatterStyle(BLUE, 0.3, S.f) },
          { label: "Data passing baseline and χ² cut", data: rows(orangeBlobRows), order: 3, ...scatterStyle(ORANGE, 0.5, S.f) },
          { label: "Data passing baseline and χ² cut", data: pairs([...orangeLow, ...orangeMid, ...orangeHigh]), order: 2, ...scatterStyle(ORANGE, 0.3, S.f) },
          {
            type: "line",
            label: "χ² Cut",
            data: [
              { x: X_MIN, y: CHI2_CUT },
              { x: X_MAX, y: CHI2_CUT },
            ],
            order: 1,
            borderColor: "#000",
            borderWidth: 13 * S.f,
            borderDash: [50 * S.f, 23 * S.f],
            borderCapStyle: "butt",
            pointRadius: 0,
            fill: false,
            clip: 0,
          },
        ] as any,
      },
      options: {
        responsive: false,
        animation: false,
        devicePixelRatio: window.devicePixelRatio || 1,
        events: [],
        parsing: false,
        layout: { padding: { top: 224 * sy, right: 76 * sx, bottom: 0, left: 0 } },
        plugins: {
          legend: { display: false },
          title: { display: false },
          tooltip: { enabled: false },
        },
        scales: {
          x: {
            type: "linear",
            min: X_MIN,
            max: X_MAX,
            afterBuildTicks: (s: any) => {
              s.ticks = xTicks.map((v) => ({ value: v }))
            },
            afterFit: (s: any) => {
              s.height = 297 * sy
            },
            grid: { display: false, drawTicks: false },
            border: { display: false },
            ticks: { font: tickFont, color: "#000", padding: 13 * sy, maxRotation: 0, autoSkip: false, callback: (v: any) => String(v) },
          },
          y: {
            type: "linear",
            min: Y_MIN,
            max: Y_MAX,
            afterBuildTicks: (s: any) => {
              s.ticks = yTicks.map((v) => ({ value: v }))
            },
            afterFit: (s: any) => {
              s.width = 451 * sx
            },
            grid: { display: false, drawTicks: false },
            border: { display: false },
            ticks: { font: tickFont, color: "#000", padding: 30 * sx, autoSkip: false, callback: (v: any) => String(v) },
          },
        },
      } as any,
      plugins: [makeDecor(S)],
    })

    return () => {
      if (chartInstance.current) {
        chartInstance.current.destroy()
        chartInstance.current = null
      }
    }
  }, [])

  return (
    <div ref={boxRef} style={{ position: "absolute", left: 0, top: 0, width: 4500, height: 3000, background: "#fff", overflow: "hidden" }}>
      <canvas ref={chartRef} style={{ display: "block" }} />
    </div>
  )
}
